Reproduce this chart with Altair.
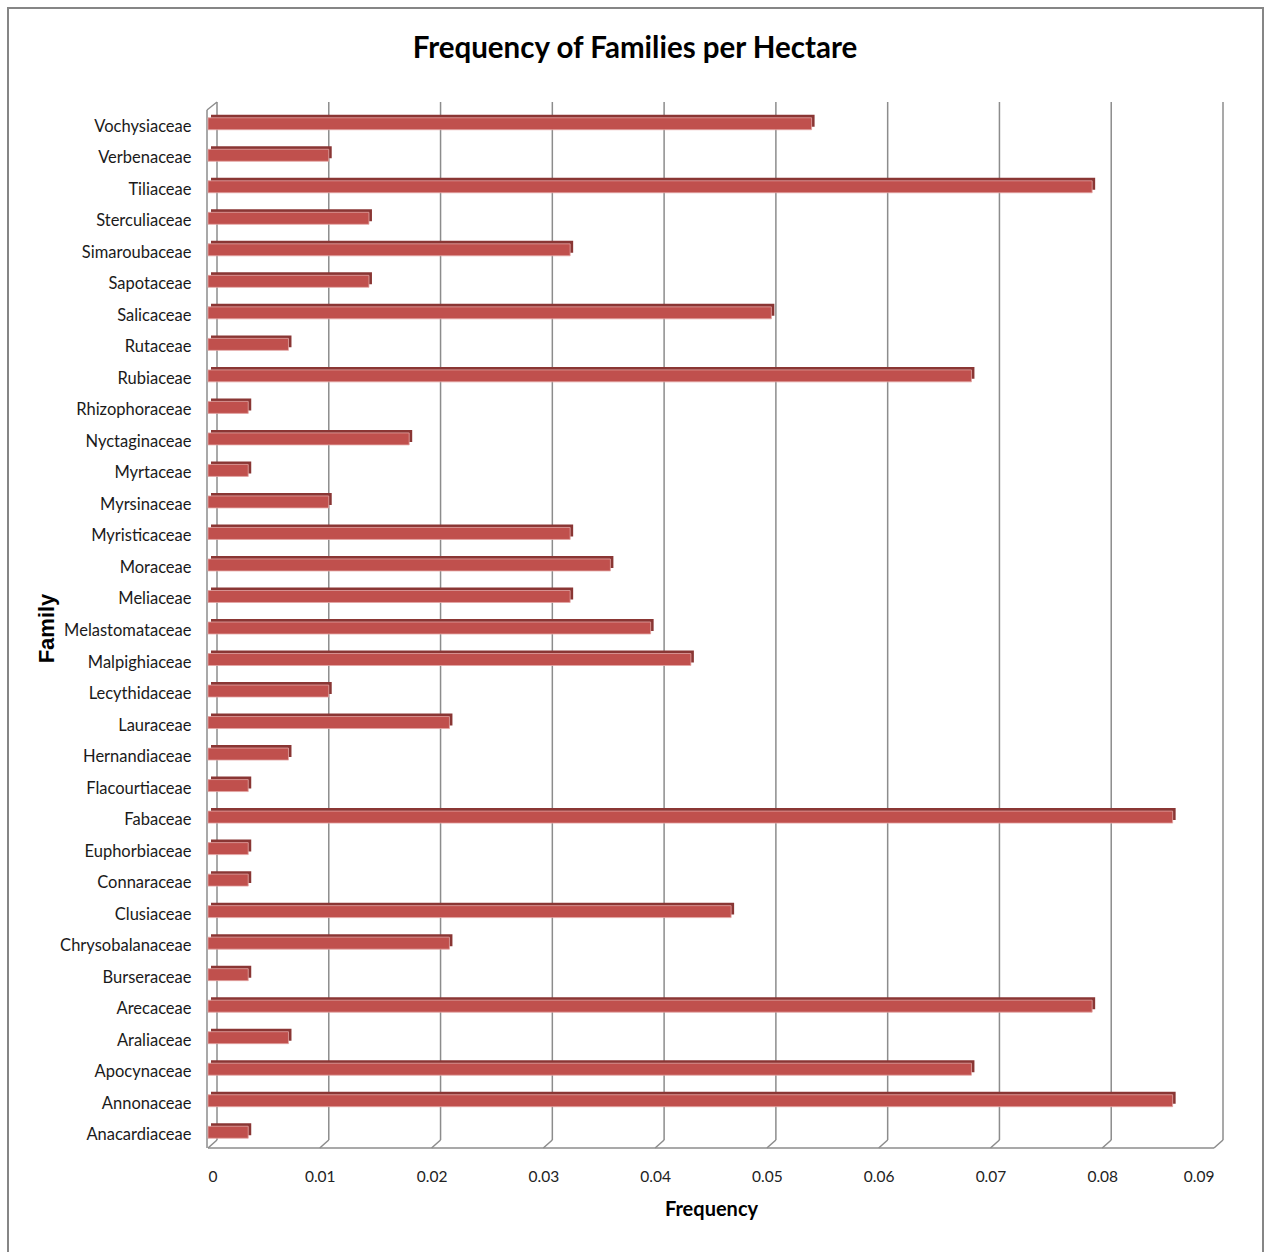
import altair as alt
import pandas as pd

# Plant families (top to bottom) and their frequency per hectare
families = [
    "Vochysiaceae", "Verbenaceae", "Tiliaceae", "Sterculiaceae", "Simaroubaceae",
    "Sapotaceae", "Salicaceae", "Rutaceae", "Rubiaceae", "Rhizophoraceae",
    "Nyctaginaceae", "Myrtaceae", "Myrsinaceae", "Myristicaceae", "Moraceae",
    "Meliaceae", "Melastomataceae", "Malpighiaceae", "Lecythidaceae", "Lauraceae",
    "Hernandiaceae", "Flacourtiaceae", "Fabaceae", "Euphorbiaceae", "Connaraceae",
    "Clusiaceae", "Chrysobalanaceae", "Burseraceae", "Arecaceae", "Araliaceae",
    "Apocynaceae", "Annonaceae", "Anacardiaceae",
]
frequency = [
    0.0540, 0.0108, 0.0791, 0.0144, 0.0324,
    0.0144, 0.0504, 0.0072, 0.0683, 0.0036,
    0.0180, 0.0036, 0.0108, 0.0324, 0.0360,
    0.0324, 0.0396, 0.0432, 0.0108, 0.0216,
    0.0072, 0.0036, 0.0863, 0.0036, 0.0036,
    0.0468, 0.0216, 0.0036, 0.0791, 0.0072,
    0.0683, 0.0863, 0.0036,
]
ticks = [0, 0.01, 0.02, 0.03, 0.04, 0.05, 0.06, 0.07, 0.08, 0.09]
chart_title = "Frequency of Families per Hectare"

W, H = 1006, 1040          # plot area
DEPTH_X, DEPTH_Y = 9, 8    # pseudo-3D wall depth
FONT = "Lato"
WALL = "#8c8c8c"

bars_df = pd.DataFrame({"Family": families, "Frequency": frequency})
grid_df = pd.DataFrame({"Frequency": ticks})
one_df = pd.DataFrame({"k": [0]})

x_scale = alt.Scale(domain=[ticks[0], ticks[-1]], nice=False, zero=True)
y_scale = alt.Scale(domain=families, paddingInner=0.62, paddingOuter=0.31)

x_axis = alt.Axis(
    values=ticks, format=".2~f", domain=False, ticks=False, grid=False,
    labelFont=FONT, labelFontSize=15.5, labelColor="#222222",
    labelPadding=21, title="Frequency", titleFont=FONT,
    titleFontSize=20, titleFontWeight="bold", titleColor="#000000",
    titlePadding=15,
)
y_axis = alt.Axis(
    domain=False, ticks=False, grid=False,
    labelFont=FONT, labelFontSize=16.5, labelColor="#1a1a1a",
    labelPadding=17, labelOffset=3, title="Family", titleFont="Liberation Sans",
    titleFontSize=22, titleFontWeight="bold", titleColor="#000000",
    titlePadding=1,
)

# outer chart frame
frame = alt.Chart(one_df).mark_rect(
    filled=False, stroke="#868686", strokeWidth=2
).encode(
    x=alt.value(-200), x2=alt.value(1055),
    y=alt.value(-100), y2=alt.value(1200),
)

# chart heading
heading = alt.Chart(one_df).mark_text(
    text=chart_title, font=FONT, fontSize=29.5, fontWeight="bold",
    color="#000000", align="center", baseline="alphabetic",
).encode(x=alt.value(635 - 208), y=alt.value(58 - 108))

# back-wall gridlines
grid = alt.Chart(grid_df).mark_rule(
    color=WALL, strokeWidth=1.5, xOffset=DEPTH_X
).encode(
    x=alt.X("Frequency:Q", scale=x_scale, axis=x_axis),
    y=alt.value(-6), y2=alt.value(H - DEPTH_Y),
)

# floor diagonals joining the front edge to each gridline
floor_diag = alt.Chart(grid_df).mark_rule(
    color=WALL, strokeWidth=1.5, x2Offset=DEPTH_X
).encode(
    x=alt.X("Frequency:Q", scale=x_scale, axis=x_axis),
    x2="Frequency:Q",
    y=alt.value(H), y2=alt.value(H - DEPTH_Y),
)

# floor front edge
floor_front = alt.Chart(one_df).mark_rule(color=WALL, strokeWidth=1.5).encode(
    x=alt.datum(ticks[0], scale=x_scale, axis=x_axis),
    x2=alt.datum(ticks[-1]),
    y=alt.value(H),
)

# side wall front edge and its top corner
wall_front = alt.Chart(one_df).mark_rule(color=WALL, strokeWidth=1.5, xOffset=-1).encode(
    x=alt.datum(ticks[0], scale=x_scale, axis=x_axis),
    y=alt.value(2), y2=alt.value(H),
)
wall_top = alt.Chart(one_df).mark_rule(
    color=WALL, strokeWidth=1.5, xOffset=-1, x2Offset=DEPTH_X
).encode(
    x=alt.datum(ticks[0], scale=x_scale, axis=x_axis),
    x2=alt.datum(ticks[0]),
    y=alt.value(2), y2=alt.value(-6),
)

# darker top/side faces of the bars
bar_depth = alt.Chart(bars_df).mark_bar(
    color="#8a3634", xOffset=3, x2Offset=3, yOffset=-3, y2Offset=-3
).encode(
    x=alt.X("Frequency:Q", scale=x_scale, axis=x_axis),
    y=alt.Y("Family:N", sort=families, scale=y_scale, axis=y_axis),
)

# bar front faces
bar_front = alt.Chart(bars_df).mark_bar(
    color="#c0504d", stroke="#e3a6a4", strokeWidth=0.8
).encode(
    x=alt.X("Frequency:Q", scale=x_scale, axis=x_axis),
    y=alt.Y("Family:N", sort=families, scale=y_scale, axis=y_axis),
)

chart = alt.layer(
    frame, heading, grid, floor_diag, floor_front, wall_front, wall_top,
    bar_depth, bar_front
).properties(
    width=W, height=H,
    background="white",
    autosize=alt.AutoSizeParams(type="none"),
    padding={"left": 208, "top": 108, "right": 51, "bottom": 104},
).configure_view(strokeWidth=0)

chart.save("out.html", embed_options={"renderer": "svg", "actions": False})
